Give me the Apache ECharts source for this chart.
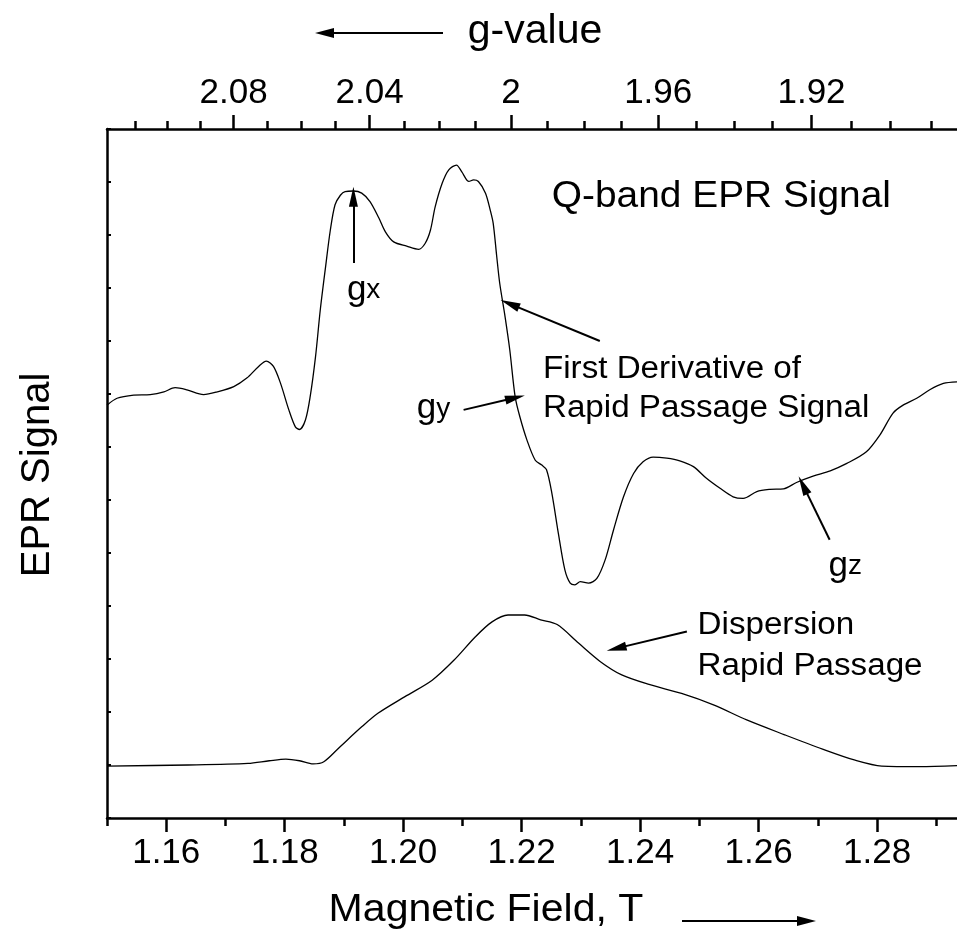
<!DOCTYPE html>
<html><head><meta charset="utf-8">
<script src="https://cdn.jsdelivr.net/npm/echarts@6/dist/echarts.min.js"></script>
<style>html,body{margin:0;padding:0;background:#fff}#c{width:957px;height:938px}</style>
</head><body><div id="c"></div>
<script>
// ---- data (Magnetic field in T, signal in arbitrary units) ----
const derivField = [1.1500,1.1517,1.1545,1.1573,1.1596,1.1615,1.1635,1.1663,1.1686,1.1714,
 1.1736,1.1756,1.1769,1.1781,1.1793,1.1807,1.1818,1.1825,1.1835,1.1843,
 1.1852,1.1860,1.1869,1.1877,1.1885,1.1894,1.1902,1.1916,1.1930,1.1944,
 1.1959,1.1970,1.1984,1.2006,1.2026,1.2037,1.2046,1.2054,1.2066,1.2077,
 1.2090,1.2099,1.2111,1.2119,1.2127,1.2139,1.2147,1.2152,1.2158,1.2163,
 1.2172,1.2180,1.2189,1.2197,1.2209,1.2223,1.2234,1.2242,1.2251,1.2262,
 1.2273,1.2282,1.2290,1.2299,1.2313,1.2327,1.2341,1.2355,1.2372,1.2389,
 1.2405,1.2422,1.2445,1.2467,1.2490,1.2512,1.2535,1.2557,1.2574,1.2597,
 1.2619,1.2642,1.2664,1.2692,1.2721,1.2749,1.2782,1.2805,1.2827,1.2844,
 1.2867,1.2889,1.2912,1.2935];
const derivSignal = [7.79,7.92,7.98,7.99,8.04,8.12,8.08,7.99,8.04,8.14,
 8.30,8.52,8.62,8.52,8.20,7.70,7.38,7.33,7.51,7.95,
 8.70,9.58,10.40,11.09,11.57,11.75,11.82,11.83,11.79,11.63,
 11.32,11.06,10.87,10.79,10.73,10.84,11.09,11.53,11.98,12.23,
 12.32,12.19,12.01,12.04,12.01,11.79,11.47,11.22,10.59,10.09,
 9.46,8.83,7.95,7.57,7.13,6.75,6.66,6.57,6.13,5.37,
 4.68,4.43,4.40,4.46,4.43,4.52,4.87,5.43,6.06,6.50,
 6.72,6.81,6.79,6.74,6.63,6.41,6.22,6.06,6.03,6.16,
 6.20,6.21,6.33,6.45,6.55,6.69,6.91,7.23,7.64,7.79,
 7.92,8.08,8.20,8.23];
const dispField = [1.1500,1.1637,1.1738,1.1774,1.1802,1.1825,1.1848,1.1866,1.1894,1.1930,
 1.1958,1.2003,1.2049,1.2086,1.2122,1.2150,1.2177,1.2205,1.2232,1.2260,
 1.2296,1.2333,1.2369,1.2415,1.2470,1.2525,1.2580,1.2644,1.2708,1.2763,
 1.2808,1.2872,1.2935];
const dispSignal = [0.98,1.00,1.03,1.08,1.11,1.08,1.02,1.06,1.35,1.72,
 1.98,2.29,2.60,2.98,3.42,3.70,3.83,3.83,3.74,3.65,
 3.30,2.95,2.70,2.52,2.35,2.13,1.85,1.57,1.30,1.09,
 0.98,0.97,0.99];

const fieldMajorTicks = [1.16,1.18,1.20,1.22,1.24,1.26,1.28];
const fieldMinorTicks = [1.15,1.17,1.19,1.21,1.23,1.25,1.27,1.29];
const gMajorTicks = [2.08,2.04,2.00,1.96,1.92];
const gMinorTicks = [2.11,2.10,2.09,2.07,2.06,2.05,2.03,2.02,2.01,1.99,1.98,1.97,1.95,1.94,1.93,1.91,1.90,1.89];

// axis ranges
const fieldMin = 1.15, fieldMax = 1.2935;
const invGMin = 0.47199, invGMax = 0.53092; // top axis is linear in 1/g
const signalMin = 0, signalMax = 13;

// annotation arrows [fromField, fromSignal, toField, toSignal]
const arrowGx = [1.1916, 10.47, 1.1916, 11.72];
const arrowGy = [1.2102, 7.70, 1.2189, 7.93];
const arrowFD = [1.2332, 9.00, 1.2180, 9.70];
const arrowGz = [1.2720, 5.25, 1.2675, 6.28];
const arrowDisp = [1.2479, 3.52, 1.2360, 3.20];

// annotation texts: [field, signal(middle), text]
const labelQband = [1.2251, 11.72, 'Q-band EPR Signal'];
const labelFD1 = [1.2236, 8.47, 'First Derivative of'];
const labelFD2 = [1.2236, 7.72, 'Rapid Passage Signal'];
const labelDisp1 = [1.2497, 3.64, 'Dispersion'];
const labelDisp2 = [1.2497, 2.86, 'Rapid Passage'];
const labelGx = [1.1905, 9.95, 'x'];
const labelGy = [1.2023, 7.72, 'y'];
const labelGz = [1.2718, 4.74, 'z'];

const FONT = '"Liberation Sans", Arial, Helvetica, sans-serif';
const inv = arr => arr.map(g => 1 / g);

const arrowHead = 'path://M5,0 L10,20 L0,20 Z';
function arrowItem(a) {
  return [{coord: [a[0], a[1]], symbol: 'none'},
          {coord: [a[2], a[3]], symbol: arrowHead, symbolSize: [9, 20]}];
}

const axisLineStyle = {color: '#000', width: 2.5};

const option = {
  animation: false,
  backgroundColor: '#fff',
  grid: {left: 107, right: 0, top: 129, bottom: 120, containLabel: false},
  xAxis: [
    {type: 'value', position: 'bottom', min: fieldMin, max: fieldMax, gridIndex: 0,
     axisLine: {show: true, onZero: false, lineStyle: axisLineStyle},
     axisTick: {show: true, inside: false, length: 14, customValues: fieldMajorTicks, lineStyle: {color: '#000', width: 2.5}},
     axisLabel: {show: true, customValues: fieldMajorTicks, margin: 18, color: '#000', fontSize: 35, fontFamily: FONT,
                 formatter: v => v.toFixed(2)},
     splitLine: {show: false}},
    {type: 'value', position: 'bottom', min: fieldMin, max: fieldMax, gridIndex: 0,
     axisLine: {show: false, onZero: false},
     axisTick: {show: true, inside: false, length: 8, customValues: fieldMinorTicks, lineStyle: {color: '#000', width: 2.5}},
     axisLabel: {show: false}, splitLine: {show: false}},
    {type: 'value', position: 'top', min: invGMin, max: invGMax, gridIndex: 0,
     axisLine: {show: true, onZero: false, lineStyle: axisLineStyle},
     axisTick: {show: true, inside: false, length: 14, customValues: inv(gMajorTicks), lineStyle: {color: '#000', width: 2.5}},
     axisLabel: {show: true, customValues: inv(gMajorTicks), margin: 18, color: '#000', fontSize: 35, fontFamily: FONT,
                 formatter: v => String(parseFloat((1 / v).toFixed(2)))},
     splitLine: {show: false}},
    {type: 'value', position: 'top', min: invGMin, max: invGMax, gridIndex: 0,
     axisLine: {show: false, onZero: false},
     axisTick: {show: true, inside: false, length: 8, customValues: inv(gMinorTicks), lineStyle: {color: '#000', width: 2.5}},
     axisLabel: {show: false}, splitLine: {show: false}}
  ],
  yAxis: {type: 'value', min: signalMin, max: signalMax, interval: 1,
    axisLine: {show: true, onZero: false, lineStyle: axisLineStyle},
    axisTick: {show: true, inside: true, length: 4, lineStyle: {color: '#000', width: 2}},
    axisLabel: {show: false}, splitLine: {show: false}},
  series: [
    {type: 'line', name: 'First Derivative', xAxisIndex: 0, yAxisIndex: 0,
     data: derivField.map((f, i) => [f, derivSignal[i]]),
     showSymbol: false, smooth: 0.3, silent: true,
     lineStyle: {color: '#000', width: 1.3},
     markLine: {silent: true, animation: false, symbol: ['none', arrowHead],
       label: {show: false}, emphasis: {disabled: true},
       lineStyle: {color: '#000', width: 2, type: 'solid'},
       itemStyle: {color: '#000'},
       data: [arrowGx, arrowGy, arrowFD, arrowGz, arrowDisp].map(arrowItem)}},
    {type: 'line', name: 'Dispersion', xAxisIndex: 0, yAxisIndex: 0,
     data: dispField.map((f, i) => [f, dispSignal[i]]),
     showSymbol: false, smooth: 0.3, silent: true,
     lineStyle: {color: '#000', width: 1.3}}
  ]
};

const chart = echarts.init(document.getElementById('c'), null, {renderer: 'canvas'});
chart.setOption(option);

function px(f, s) { return chart.convertToPixel({xAxisIndex: 0, yAxisIndex: 0}, [f, s]); }
function plainLabel(l, size, sx) {
  const p = px(l[0], l[1]);
  return {type: 'text', x: p[0], y: p[1], scaleX: sx || 1, silent: true,
    style: {text: l[2], fill: '#000', font: size + 'px ' + FONT, align: 'left', verticalAlign: 'middle'}};
}
function gLabel(l) {
  const p = px(l[0], l[1]);
  return {type: 'text', x: p[0], y: p[1], silent: true,
    style: {text: '{g|g}{s|' + l[2] + '}', fill: '#000', align: 'left', verticalAlign: 'middle',
      rich: {g: {fontSize: 35, fontFamily: FONT, fill: '#000'}, s: {fontSize: 28, fontFamily: FONT, fill: '#000'}}}};
}

const graphics = [
  // axis titles
  {type: 'text', x: 535, y: 32, silent: true,
   style: {text: 'g-value', fill: '#000', font: '41px ' + FONT, align: 'center', verticalAlign: 'middle'}},
  {type: 'text', x: 486, y: 911, scaleX: 1.08, silent: true,
   style: {text: 'Magnetic Field, T', fill: '#000', font: '38px ' + FONT, align: 'center', verticalAlign: 'middle'}},
  {type: 'text', x: 38, y: 475, rotation: Math.PI / 2, silent: true,
   style: {text: 'EPR Signal', fill: '#000', font: '40px ' + FONT, align: 'center', verticalAlign: 'middle'}},
  // decorative direction arrows next to the axis titles
  {type: 'line', silent: true, shape: {x1: 443, y1: 33, x2: 330, y2: 33}, style: {stroke: '#000', lineWidth: 2}},
  {type: 'polygon', silent: true, shape: {points: [[315, 33], [334, 28], [334, 38]]}, style: {fill: '#000'}},
  {type: 'line', silent: true, shape: {x1: 682, y1: 921, x2: 800, y2: 921}, style: {stroke: '#000', lineWidth: 2}},
  {type: 'polygon', silent: true, shape: {points: [[816, 921], [797, 916], [797, 926]]}, style: {fill: '#000'}},
  plainLabel(labelQband, 37, 1.05),
  plainLabel(labelFD1, 31, 1.07),
  plainLabel(labelFD2, 31, 1.07),
  plainLabel(labelDisp1, 31, 1.07),
  plainLabel(labelDisp2, 31, 1.07),
  gLabel(labelGx), gLabel(labelGy), gLabel(labelGz)
];
chart.setOption({graphic: graphics});
</script>
</body></html>
